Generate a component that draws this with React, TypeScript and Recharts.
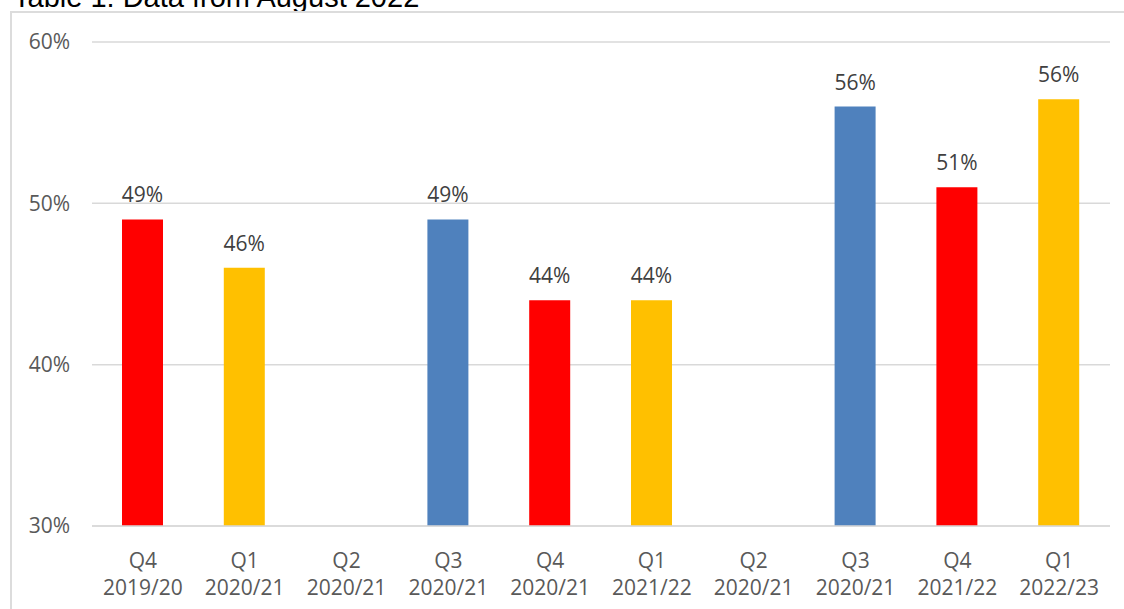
import React from 'react';
import { BarChart, Bar, XAxis, YAxis, CartesianGrid, Cell, LabelList } from 'recharts';

const quarters = ['Q4', 'Q1', 'Q2', 'Q3', 'Q4', 'Q1', 'Q2', 'Q3', 'Q4', 'Q1'];
const years = ['2019/20', '2020/21', '2020/21', '2020/21', '2020/21', '2021/22', '2020/21', '2020/21', '2021/22', '2022/23'];
const values: (number | null)[] = [49, 46, null, 49, 44, 44, null, 56, 51, 56.45];
const barColors = ['#FF0000', '#FFC000', '#FFC000', '#4F81BD', '#FF0000', '#FFC000', '#FFC000', '#4F81BD', '#FF0000', '#FFC000'];
const yTicks = [30, 40, 50, 60];

const data = quarters.map((q, i) => ({ key: `${q}-${i}`, q, year: years[i], value: values[i] }));

const FONT = '"Open Sans", sans-serif';

const XTick = (props: any) => {
  const { x, y, payload } = props;
  const row = data[payload.index] || data.find((d) => d.key === payload.value);
  return (
    <g>
      <text x={x} y={y + 42} textAnchor="middle" fill="#595959" fontSize={21} fontFamily={FONT}>
        {row ? row.q : ''}
      </text>
      <text x={x} y={y + 69} textAnchor="middle" fill="#595959" fontSize={21} fontFamily={FONT}>
        {row ? row.year : ''}
      </text>
    </g>
  );
};

const TopLabel = (props: any) => {
  const { x, y, width, value } = props;
  if (value == null) return null;
  return (
    <text x={x + width / 2} y={y - 17} textAnchor="middle" fill="#404040" fontSize={21} fontFamily={FONT}>
      {`${Math.round(value)}%`}
    </text>
  );
};

export default function App() {
  return (
    <div style={{ position: 'absolute', left: 0, top: 0, width: 1124, height: 609, overflow: 'hidden', background: '#fff' }}>
      <div
        style={{
          position: 'absolute',
          left: 13,
          top: -17,
          fontFamily: '"Liberation Sans", Arial, sans-serif',
          fontSize: 29,
          lineHeight: '29px',
          color: '#000',
          whiteSpace: 'nowrap',
        }}
      >
        Table 1: Data from August 2022
      </div>
      <div
        style={{
          position: 'absolute',
          left: 10,
          top: 11,
          width: 1300,
          height: 800,
          border: '2px solid #DCDCDC',
        }}
      />
      <div style={{ position: 'absolute', left: 0, top: 0 }}>
        <BarChart width={1124} height={609} data={data} margin={{ top: 42, right: 14, bottom: 0, left: 0 }} barSize={41}>
          <CartesianGrid vertical={false} stroke="#D9D9D9" strokeWidth={1.5} />
          <XAxis
            dataKey="key"
            height={83}
            tickLine={false}
            tickSize={0}
            tickMargin={0}
            axisLine={{ stroke: '#D9D9D9', strokeWidth: 1.5 }}
            tick={<XTick />}
            interval={0}
          />
          <YAxis
            width={92}
            domain={[30, 60]}
            ticks={yTicks}
            axisLine={false}
            tickLine={false}
            tickSize={0}
            tickMargin={22}
            tickFormatter={(v: number) => `${v}%`}
            tick={{ fill: '#595959', fontSize: 21, fontFamily: FONT }}
          />
          <Bar dataKey="value" isAnimationActive={false}>
            {data.map((d, i) => (
              <Cell key={d.key} fill={barColors[i]} />
            ))}
            <LabelList dataKey="value" content={<TopLabel />} />
          </Bar>
        </BarChart>
      </div>
    </div>
  );
}
